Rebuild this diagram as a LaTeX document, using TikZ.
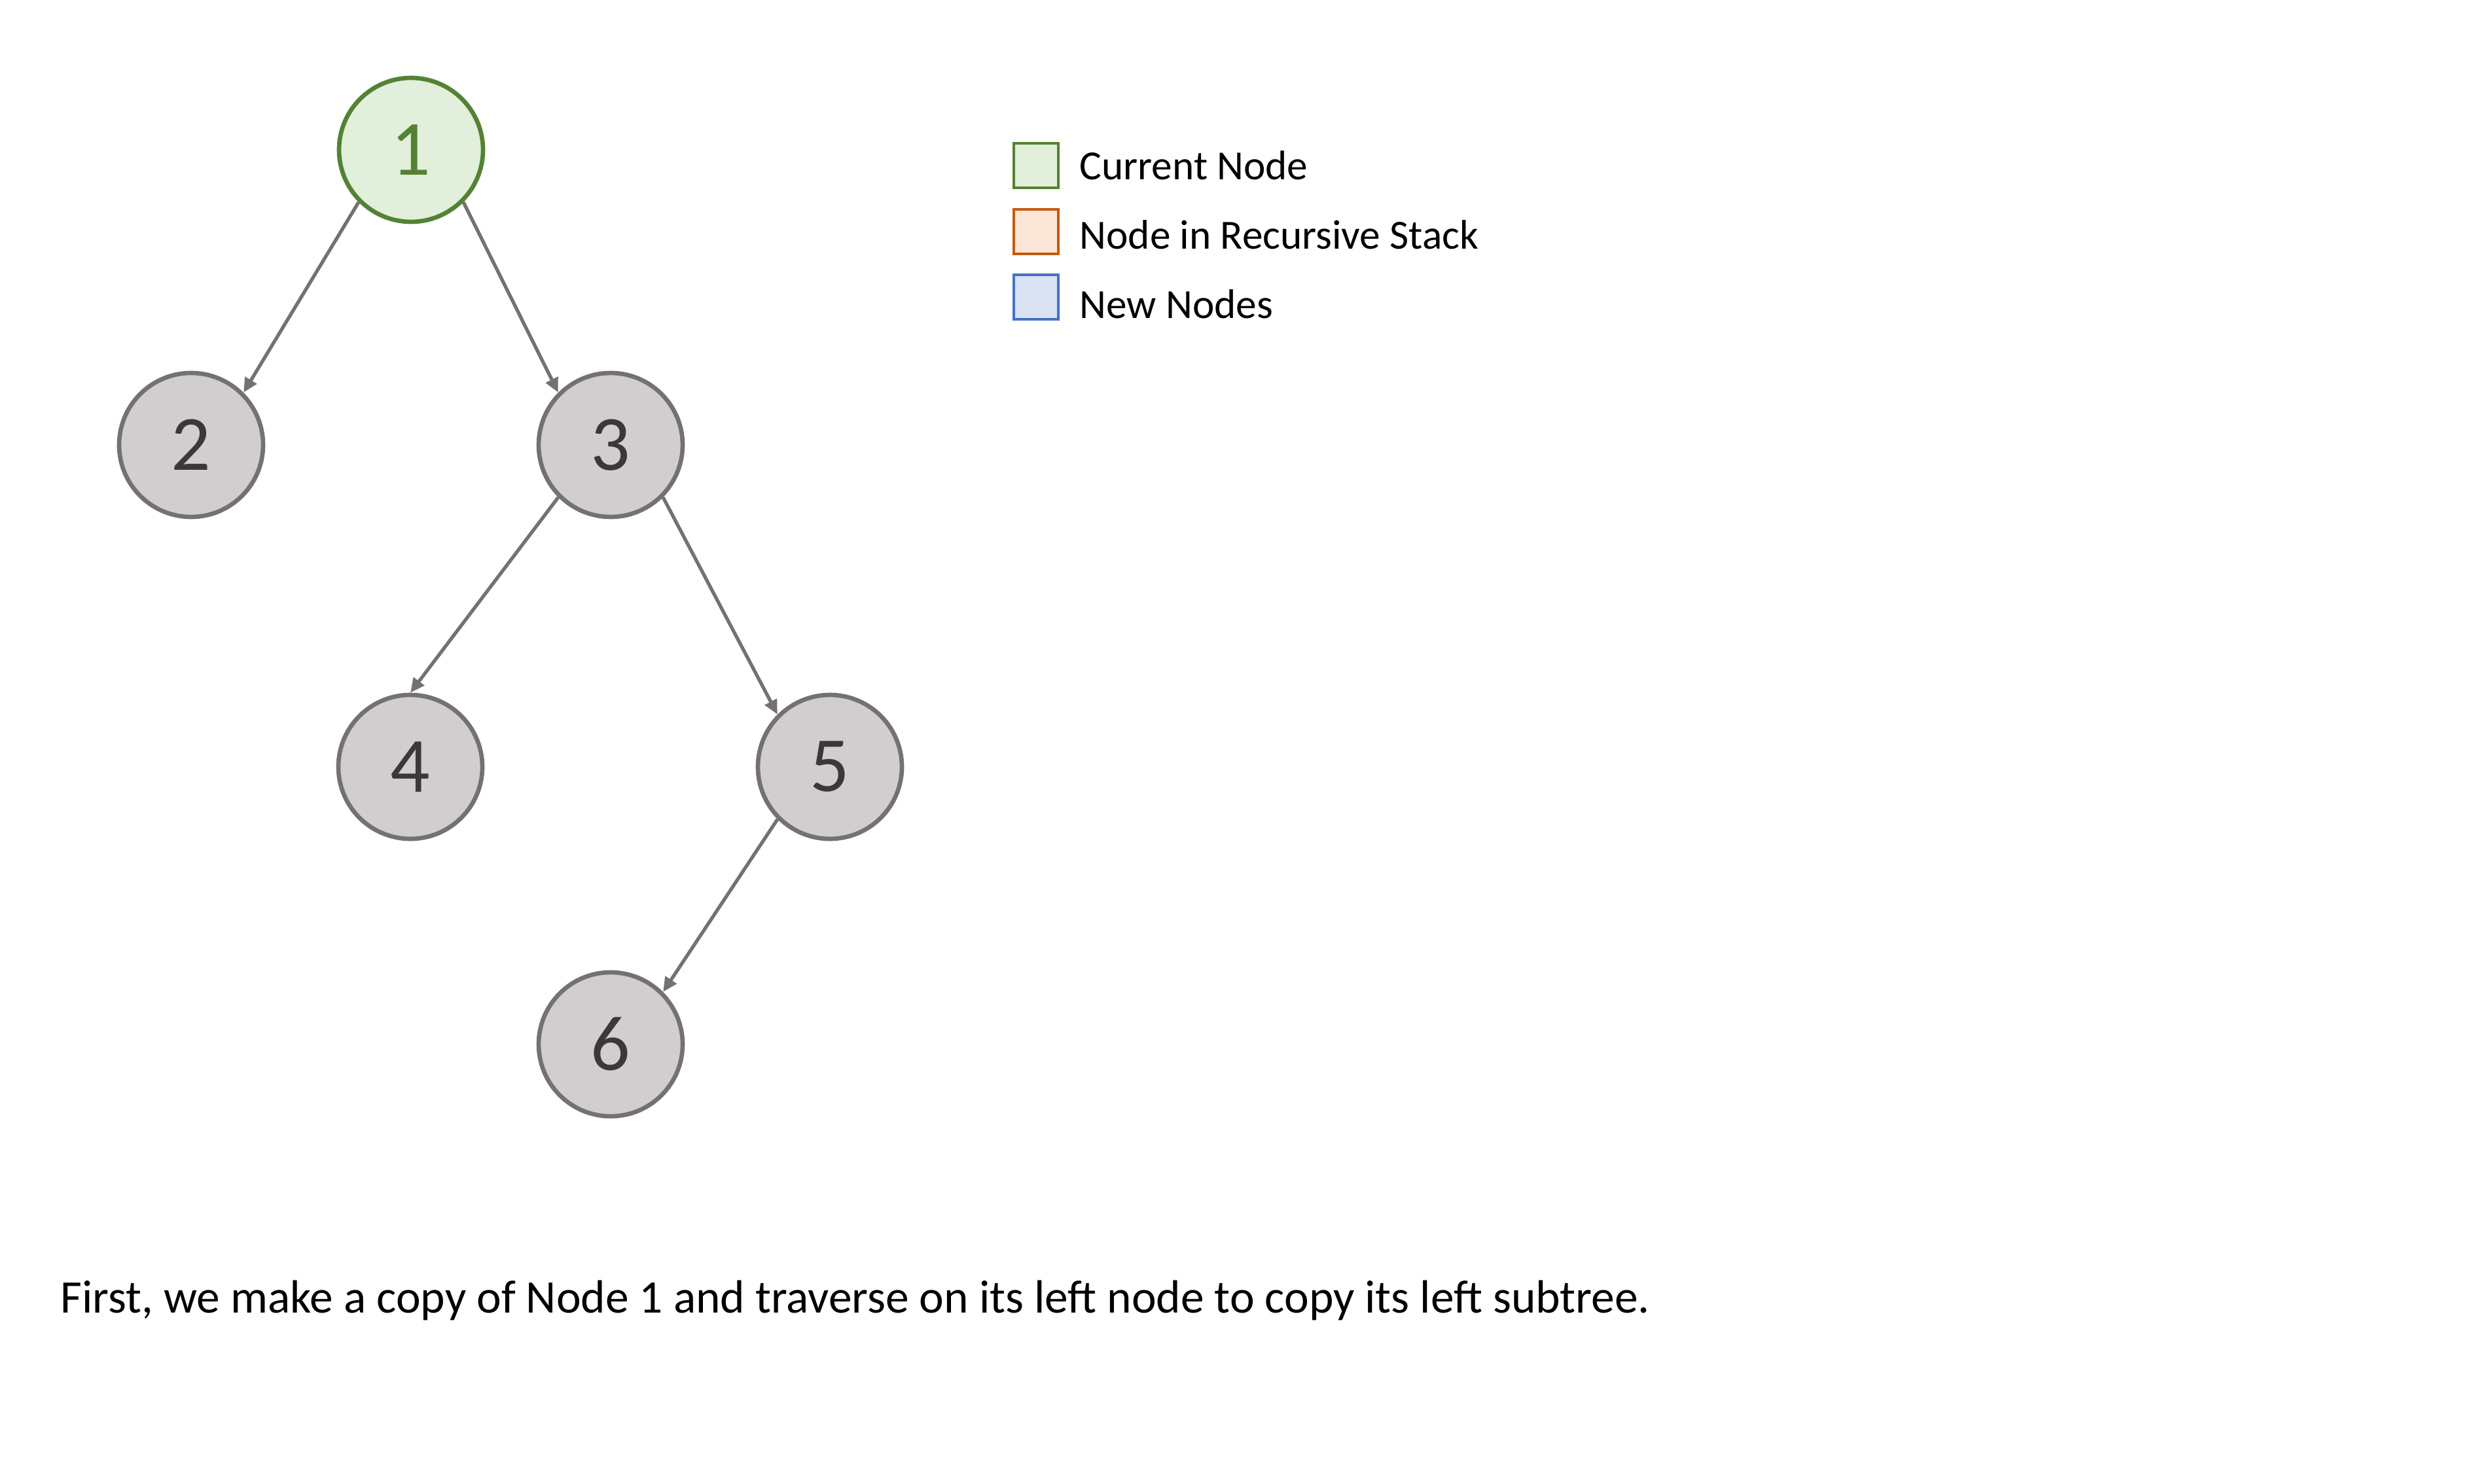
\documentclass[tikz,border=0pt]{standalone}
\usepackage{fontspec}
\setmainfont{Carlito}
\usetikzlibrary{arrows.meta}
\definecolor{curfill}{HTML}{E2EFDA}
\definecolor{curline}{HTML}{548235}
\definecolor{stkfill}{HTML}{FBE5D6}
\definecolor{stkline}{HTML}{C55A11}
\definecolor{newfill}{HTML}{DAE3F3}
\definecolor{newline}{HTML}{4472C4}
\definecolor{treefill}{HTML}{D0CECE}
\definecolor{treeline}{HTML}{767171}
\definecolor{digit}{HTML}{3B3838}
\begin{document}
\begin{tikzpicture}[
    treenode/.style={circle, draw=treeline, fill=treefill, line width=1.9pt, minimum size=2.2cm,
      inner sep=0pt, text=digit, font=\fontsize{34}{40}\selectfont},
    curnode/.style={treenode, draw=curline, fill=curfill, text=curline},
    edge/.style={-{Triangle[length=0.22cm, width=0.2cm]}, treeline, line width=1.5pt},
    keybox/.style={draw, line width=0.9pt, minimum size=0.68cm, inner sep=0pt},
    keytext/.style={anchor=west, inner sep=0pt, font=\fontsize{18}{22}\selectfont}
  ]
  \useasboundingbox (0,0) rectangle (37.8,-22.68);
  \node[curnode]  (n1) at (6.28,-2.29)  {1};
  \node[treenode] (n2) at (2.92,-6.80)  {2};
  \node[treenode] (n3) at (9.33,-6.80)  {3};
  \node[treenode] (n4) at (6.27,-11.72) {4};
  \node[treenode] (n5) at (12.68,-11.72) {5};
  \node[treenode] (n6) at (9.33,-15.96) {6};
  \draw[edge] (n1.south west) -- (n2.north east);
  \draw[edge] (n1.south east) -- (n3.north west);
  \draw[edge] (n3.south west) -- (n4.north);
  \draw[edge] (n3.south east) -- (n5.north west);
  \draw[edge] (n5.south west) -- (n6.north east);
  \node[keybox, draw=curline, fill=curfill] (k1) at (15.83,-2.53) {};
  \node[keybox, draw=stkline, fill=stkfill] (k2) at (15.83,-3.54) {};
  \node[keybox, draw=newline, fill=newfill] (k3) at (15.83,-4.54) {};
  \node[keytext] (t1) at (16.49,-2.53) {Current Node};
  \node[keytext] (t2) at (16.49,-3.59) {Node in Recursive Stack};
  \node[keytext] (t3) at (16.49,-4.65) {New Nodes};
  \node[anchor=base west, inner sep=0pt, font=\fontsize{20.3}{24}\selectfont] (note) at (0.92,-20.06)
    {First, we make a copy of Node 1 and traverse on its left node to copy its left subtree.};
\end{tikzpicture}
\end{document}
